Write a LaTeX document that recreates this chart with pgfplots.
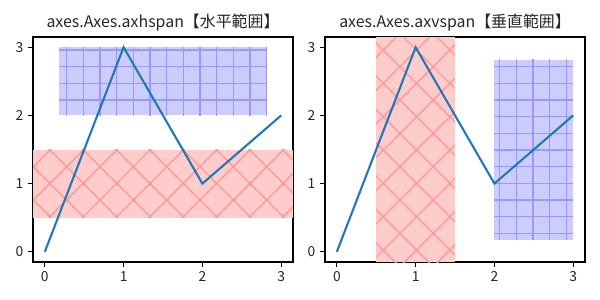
\documentclass[border=0pt]{standalone}
\usepackage{pgfplots}
\pgfplotsset{compat=1.18}
\usepackage{fontspec}
\setmainfont{Noto Sans CJK JP}
\usetikzlibrary{patterns.meta}
\definecolor{mplblue}{HTML}{1F77B4}
\definecolor{redfill}{RGB}{255,204,204}
\definecolor{redhatch}{RGB}{255,152,152}
\definecolor{bluefill}{RGB}{204,204,255}
\definecolor{bluehatch}{RGB}{152,152,255}
\pgfplotsset{
  myax/.style={
    scale only axis, width=187.9pt, height=162.6pt,
    xmin=-0.15, xmax=3.15, ymin=-0.15, ymax=3.15,
    xtick={0,1,2,3}, ytick={0,1,2,3},
    tick align=outside, tick pos=left,
    major tick length=3.5pt,
    every tick/.style={black, line width=0.8pt},
    axis line style={line width=0.8pt},
    tick label style={font=\fontsize{10}{12}\selectfont, text=black!85},
    /pgf/number format/assume math mode=true,
    title style={font=\fontsize{11.5}{14}\selectfont, text=black!85, at={(0.5,1)}, anchor=south, yshift=-5pt},
    anchor=south west,
  },
  redspan/.style={draw=none, fill=redfill, postaction={pattern={Hatch[angle=45,distance=17.03pt,line width=1pt]}, pattern color=redhatch}, forget plot},
  bluespan/.style={draw=none, fill=bluefill, postaction={pattern={Hatch[angle=0,distance=12.04pt,line width=1pt]}, pattern color=bluehatch}, forget plot},
}
\begin{document}
\begin{tikzpicture}
\useasboundingbox (0,0) rectangle (433.62pt,216.81pt);
\begin{axis}[myax, at={(23.85pt,27.46pt)}, title={axes.Axes.axhspan【水平範囲】}]
\addplot[redspan] coordinates {(-0.15,0.5) (3.15,0.5) (3.15,1.5) (-0.15,1.5)} -- cycle;
\addplot[bluespan] coordinates {(0.18,2) (2.82,2) (2.82,3) (0.18,3)} -- cycle;
\addplot[mplblue, line width=1.5pt] coordinates {(0,0) (1,3) (2,1) (3,2)};
\end{axis}
\begin{axis}[myax, at={(234.9pt,27.46pt)}, title={axes.Axes.axvspan【垂直範囲】}]
\addplot[redspan] coordinates {(0.5,-0.15) (1.5,-0.15) (1.5,3.15) (0.5,3.15)} -- cycle;
\addplot[bluespan] coordinates {(2,0.18) (3,0.18) (3,2.82) (2,2.82)} -- cycle;
\addplot[mplblue, line width=1.5pt] coordinates {(0,0) (1,3) (2,1) (3,2)};
\end{axis}
\end{tikzpicture}
\end{document}
